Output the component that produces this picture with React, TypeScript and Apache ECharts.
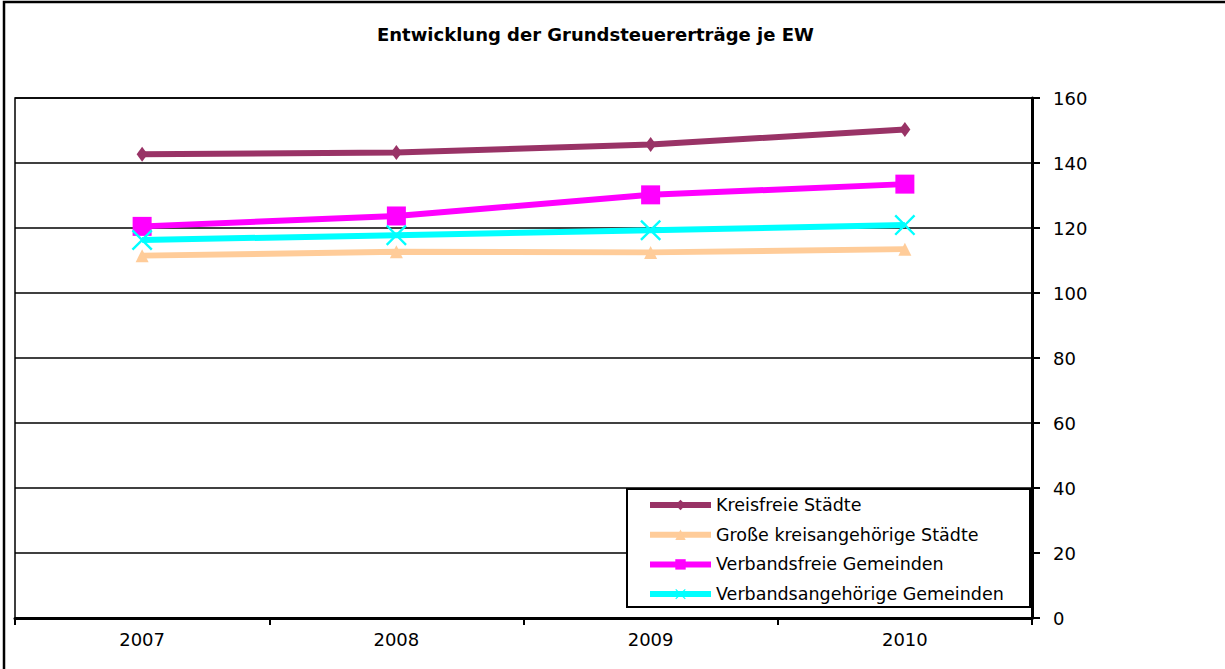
import React, { useEffect, useRef } from "react";
import * as echarts from "echarts";

const categories = ["2007", "2008", "2009", "2010"];
const kreisfreieStaedte = [142.7, 143.2, 145.7, 150.3];
const grosseKreisangehoerigeStaedte = [111.5, 112.7, 112.5, 113.5];
const verbandsfreieGemeinden = [120.5, 123.7, 130.2, 133.5];
const verbandsangehoerigeGemeinden = [116.3, 117.8, 119.3, 120.9];
const seriesNames = [
  "Kreisfreie Städte",
  "Große kreisangehörige Städte",
  "Verbandsfreie Gemeinden",
  "Verbandsangehörige Gemeinden",
];
const yMin = 0;
const yMax = 160;
const yInterval = 20;
const titleText = "Entwicklung der Grundsteuererträge je EW";

const FONT = "DejaVu Sans";
const X_PATH =
  "path://M0,1.6 L1.6,0 L10,8.4 L18.4,0 L20,1.6 L11.6,10 L20,18.4 L18.4,20 L10,11.6 L1.6,20 L0,18.4 L8.4,10 Z";

export default function App() {
  const ref = useRef<HTMLDivElement>(null);
  useEffect(() => {
    document.body.style.margin = "0";
    const chart = echarts.init(ref.current!, undefined, { renderer: "svg" });
    const mk = (
      name: string,
      data: number[],
      color: string,
      symbol: string,
      symbolSize: any,
      width: number
    ) => ({
      name,
      type: "line",
      data,
      symbol,
      symbolSize,
      showSymbol: true,
      lineStyle: { color, width },
      itemStyle: { color, borderWidth: 0 },
      emphasis: { disabled: true },
    });
    chart.setOption({
      animation: false,
      backgroundColor: "#fff",
      title: {
        text: titleText,
        left: 377,
        top: 25,
        padding: 0,
        textStyle: { fontFamily: FONT, fontSize: 18, fontWeight: "bold", color: "#000" },
      },
      grid: {
        left: 15,
        right: 193,
        top: 98,
        bottom: 51,
        show: true,
        borderColor: "#000",
        borderWidth: 1.5,
        backgroundColor: "transparent",
      },
      xAxis: {
        type: "category",
        data: categories,
        boundaryGap: true,
        axisLine: { show: true, lineStyle: { color: "#000", width: 3 } },
        axisTick: { show: true, length: 7, lineStyle: { color: "#000", width: 2 } },
        axisLabel: { color: "#000", fontFamily: FONT, fontSize: 18, margin: 12 },
        splitLine: { show: false },
      },
      yAxis: {
        type: "value",
        position: "right",
        min: yMin,
        max: yMax,
        interval: yInterval,
        axisLine: { show: true, lineStyle: { color: "#000", width: 3 } },
        axisTick: { show: true, length: 8, lineStyle: { color: "#000", width: 2 } },
        axisLabel: { color: "#000", fontFamily: FONT, fontSize: 18, margin: 21 },
        splitLine: { show: true, lineStyle: { color: "#000", width: 1.5 } },
      },
      legend: {
        orient: "vertical",
        left: 647,
        top: 496,
        padding: 0,
        itemWidth: 61,
        itemHeight: 13,
        itemGap: 11.7,
        data: seriesNames,
        textStyle: { fontFamily: FONT, fontSize: 17.5, lineHeight: 17, color: "#000" },
        lineStyle: { width: 6 },
        z: 10,
      },
      graphic: [
        {
          type: "rect",
          z: 0,
          shape: { x: 4, y: 2, width: 1260, height: 720 },
          style: { fill: "none", stroke: "#000", lineWidth: 2.5 },
          silent: true,
        },
        {
          type: "rect",
          z: 5,
          shape: { x: 627, y: 489, width: 403, height: 118 },
          style: { fill: "#fff", stroke: "#000", lineWidth: 2 },
          silent: true,
        },
      ],
      series: [
        mk(seriesNames[0], kreisfreieStaedte, "#993366", "diamond", [11, 15], 6),
        mk(seriesNames[1], grosseKreisangehoerigeStaedte, "#FFCC99", "triangle", 13, 6),
        mk(seriesNames[2], verbandsfreieGemeinden, "#FF00FF", "rect", 19, 6),
        mk(seriesNames[3], verbandsangehoerigeGemeinden, "#00FFFF", X_PATH, 21, 6),
      ],
    });
    return () => chart.dispose();
  }, []);
  return <div ref={ref} style={{ width: 1225, height: 669 }} />;
}
